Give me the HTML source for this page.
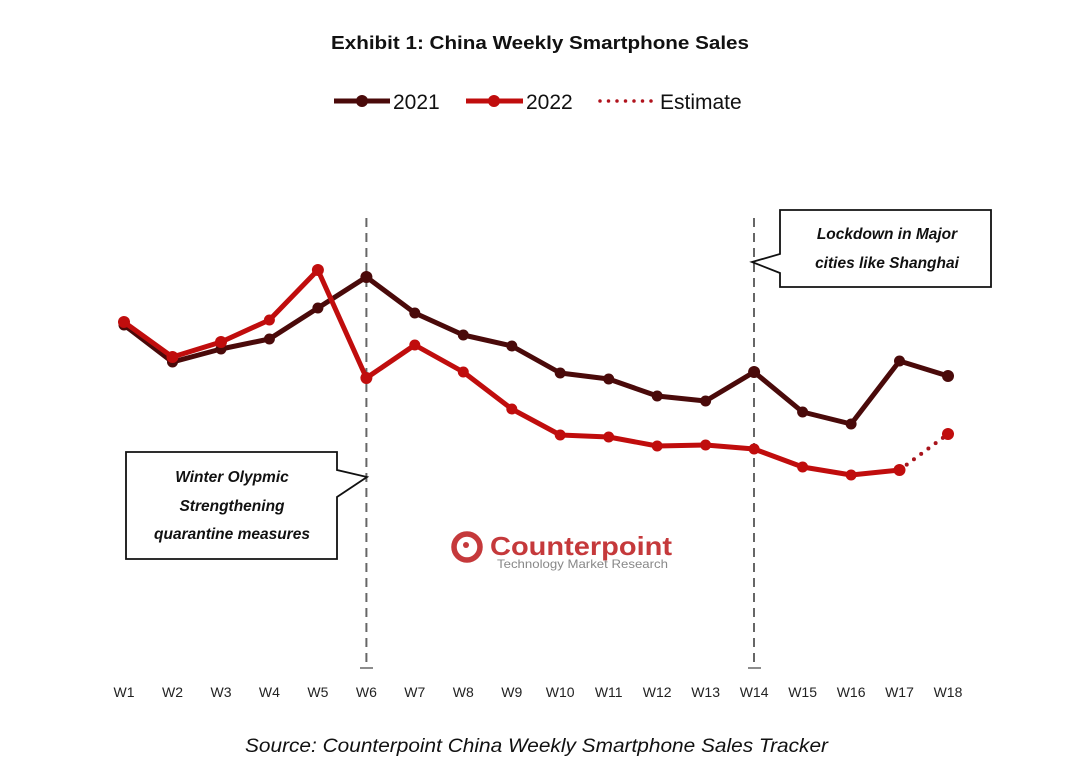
<!DOCTYPE html>
<html><head><meta charset="utf-8"><style>
html,body{margin:0;padding:0;background:#fff;}
svg{display:block;}
text{font-family:"Liberation Sans",sans-serif;}
</style></head><body>
<svg width="1080" height="775" viewBox="0 0 1080 775">
<rect width="1080" height="775" fill="#fff"/>
<text x="540" y="49" text-anchor="middle" font-size="18" font-weight="bold" fill="#111" textLength="418" lengthAdjust="spacingAndGlyphs">Exhibit 1: China Weekly Smartphone Sales</text>
<line x1="334" y1="101" x2="390" y2="101" stroke="#4a0a0a" stroke-width="5"/>
<circle cx="362" cy="101" r="6" fill="#4a0a0a"/>
<text x="393" y="109" font-size="21" fill="#111">2021</text>
<line x1="466" y1="101" x2="523" y2="101" stroke="#c00d0d" stroke-width="5"/>
<circle cx="494" cy="101" r="6" fill="#c00d0d"/>
<text x="526" y="109" font-size="21" fill="#111">2022</text>
<line x1="600" y1="101" x2="652" y2="101" stroke="#b0121c" stroke-width="3.5" stroke-dasharray="0 8.5" stroke-linecap="round"/>
<text x="660" y="109" font-size="21" fill="#111">Estimate</text>
<line x1="366.4" y1="218" x2="366.4" y2="668" stroke="#666" stroke-width="2" stroke-dasharray="9 6"/>
<line x1="360" y1="668" x2="373" y2="668" stroke="#666" stroke-width="1.5"/>
<line x1="754" y1="218" x2="754" y2="668" stroke="#666" stroke-width="2" stroke-dasharray="9 6"/>
<line x1="748" y1="668" x2="761" y2="668" stroke="#666" stroke-width="1.5"/>
<path d="M126,452 H337 V470 L367,477 L337,497 V559 H126 Z" fill="#fff" stroke="#111" stroke-width="1.8"/>
<g font-size="15.5" font-style="italic" font-weight="bold" fill="#111" text-anchor="middle">
<text x="232" y="482">Winter Olypmic</text>
<text x="232" y="511">Strengthening</text>
<text x="232" y="539">quarantine measures</text>
</g>
<path d="M780,210 H991 V287 H780 V273 L752,262 L780,254 Z" fill="#fff" stroke="#111" stroke-width="1.8"/>
<g font-size="15.5" font-style="italic" font-weight="bold" fill="#111" text-anchor="middle">
<text x="887" y="239">Lockdown in Major</text>
<text x="887" y="268">cities like Shanghai</text>
</g>
<circle cx="467" cy="547" r="13" fill="none" stroke="#c5393b" stroke-width="5.5"/>
<circle cx="466" cy="545" r="3" fill="#c5393b"/>
<text x="490" y="555" font-size="26" font-weight="bold" fill="#c5393b" textLength="182" lengthAdjust="spacingAndGlyphs">Counterpoint</text>
<text x="497" y="568" font-size="12" fill="#888" textLength="171" lengthAdjust="spacingAndGlyphs">Technology Market Research</text>
<polyline fill="none" stroke="#4a0a0a" stroke-width="5" stroke-linejoin="round" points="124,325 172.5,362 221,349 269.4,339 317.9,308 366.4,277 414.8,313 463.3,335 511.8,346 560.2,373 608.7,379 657.2,396 705.6,401 754.1,372 802.6,412 851.1,424 899.5,361 948,376"/>
<g fill="#4a0a0a">
<circle cx="124" cy="325" r="5.5"/><circle cx="172.5" cy="362" r="5.5"/><circle cx="221" cy="349" r="5.5"/><circle cx="269.4" cy="339" r="5.5"/><circle cx="317.9" cy="308" r="5.5"/><circle cx="366.4" cy="277" r="6"/><circle cx="414.8" cy="313" r="5.5"/><circle cx="463.3" cy="335" r="5.5"/><circle cx="511.8" cy="346" r="5.5"/><circle cx="560.2" cy="373" r="5.5"/><circle cx="608.7" cy="379" r="5.5"/><circle cx="657.2" cy="396" r="5.5"/><circle cx="705.6" cy="401" r="5.5"/><circle cx="754.1" cy="372" r="6"/><circle cx="802.6" cy="412" r="5.5"/><circle cx="851.1" cy="424" r="5.5"/><circle cx="899.5" cy="361" r="5.5"/><circle cx="948" cy="376" r="6"/>
</g>
<polyline fill="none" stroke="#c00d0d" stroke-width="5" stroke-linejoin="round" points="124,322 172.5,357 221,342 269.4,320 317.9,270 366.4,378 414.8,345 463.3,372 511.8,409 560.2,435 608.7,437 657.2,446 705.6,445 754.1,449 802.6,467 851.1,475 899.5,470"/>
<line x1="899.5" y1="470" x2="948" y2="434" stroke="#a8141c" stroke-width="4" stroke-dasharray="0 9" stroke-linecap="round"/>
<g fill="#c00d0d">
<circle cx="124" cy="322" r="6"/><circle cx="172.5" cy="357" r="6"/><circle cx="221" cy="342" r="6"/><circle cx="269.4" cy="320" r="5.5"/><circle cx="317.9" cy="270" r="6"/><circle cx="366.4" cy="378" r="6"/><circle cx="414.8" cy="345" r="5.5"/><circle cx="463.3" cy="372" r="5.5"/><circle cx="511.8" cy="409" r="5.5"/><circle cx="560.2" cy="435" r="5.5"/><circle cx="608.7" cy="437" r="5.5"/><circle cx="657.2" cy="446" r="5.5"/><circle cx="705.6" cy="445" r="5.5"/><circle cx="754.1" cy="449" r="5.5"/><circle cx="802.6" cy="467" r="5.5"/><circle cx="851.1" cy="475" r="5.5"/><circle cx="899.5" cy="470" r="6"/><circle cx="948" cy="434" r="6"/>
</g>
<g font-size="14" fill="#222" text-anchor="middle">
<text x="124" y="697">W1</text><text x="172.5" y="697">W2</text><text x="221" y="697">W3</text><text x="269.4" y="697">W4</text><text x="317.9" y="697">W5</text><text x="366.4" y="697">W6</text><text x="414.8" y="697">W7</text><text x="463.3" y="697">W8</text><text x="511.8" y="697">W9</text><text x="560.2" y="697">W10</text><text x="608.7" y="697">W11</text><text x="657.2" y="697">W12</text><text x="705.6" y="697">W13</text><text x="754.1" y="697">W14</text><text x="802.6" y="697">W15</text><text x="851.1" y="697">W16</text><text x="899.5" y="697">W17</text><text x="948" y="697">W18</text>
</g>
<text x="245" y="752" font-size="19" font-style="italic" fill="#111" textLength="583" lengthAdjust="spacingAndGlyphs">Source: Counterpoint China Weekly Smartphone Sales Tracker</text>
</svg>
</body></html>
